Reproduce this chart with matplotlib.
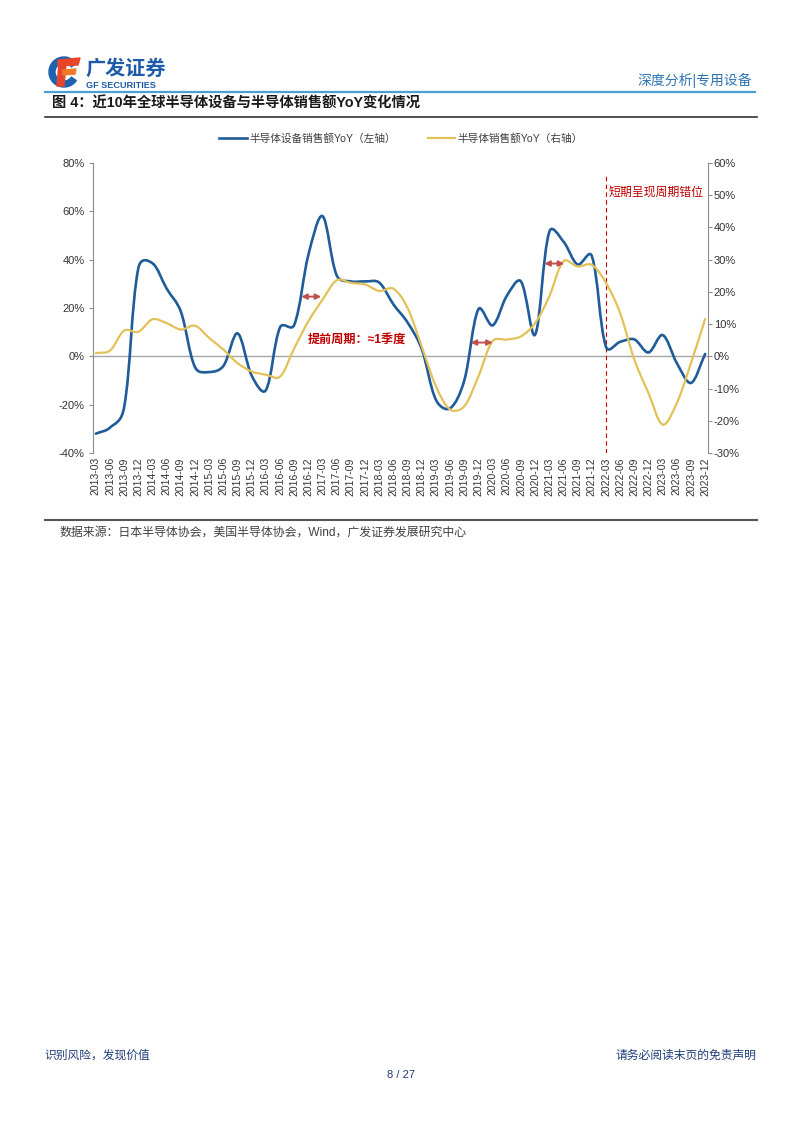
import matplotlib
matplotlib.use("Agg")
import matplotlib.pyplot as plt
import numpy as np
from matplotlib.path import Path
from matplotlib.patches import PathPatch, Wedge, Polygon
from matplotlib.lines import Line2D

plt.rcParams["font.family"] = ["Liberation Sans", "Noto Sans CJK SC", "DejaVu Sans"]

# quarterly categories 2013-03 .. 2023-12
quarters = [f"{y}-{m}" for y in range(2013, 2024) for m in ("03", "06", "09", "12")]

# semiconductor equipment sales YoY (%), left axis
equip_yoy = [-32, -29.5, -21, 36.5, 38.5, 28, 18.5, -4.5, -6.5, -4, 9.5, -8,
             -14, 12, 13, 42, 58, 33.5, 31, 31, 30.5, 21.5, 14, 3,
             -18, -21.5, -10, 19.5, 12.8, 25, 31, 9, 51.5, 47.5, 38, 41.5,
             4, 6, 7, 1.6, 8.8, -2.8, -11, 1]

# semiconductor sales YoY (%), right axis
semi_yoy = [1.0, 1.8, 8, 7.6, 11.5, 10.3, 8.3, 9.5, 5.7, 2.1, -2.1, -4.7,
            -5.7, -6.3, 2.5, 10.9, 17.6, 23.6, 22.8, 22.3, 20.3, 21, 15, 3,
            -9.3, -16.5, -15.5, -6.2, 4.7, 5.2, 6.2, 10.3, 18.6, 29.5, 27.9, 28.4,
            22.8, 13.4, -1, -11.4, -21.2, -14.5, -2.1, 11.6]

left_ticks = [-40, -20, 0, 20, 40, 60, 80]
right_ticks = [-30, -20, -10, 0, 10, 20, 30, 40, 50, 60]

# lead arrows: (x_start, x_end, y on left axis)
lead_arrows = [(14.5, 15.9, 24.7), (26.45, 28.0, 5.7), (31.65, 33.05, 38.4)]
split_quarter = "2022-03"

BLUE = "#1F5C99"
GOLD = "#E2C158"
RED = "#C00000"
W, H = 802, 1133


def fx(x):
    return x / W


def fy(y):
    return 1 - y / H


def smooth_path(axis, xs, ys):
    # bezier through the data points, tangents scaled by (sqrt) segment length on screen
    xs = np.asarray(xs, float)
    ys = np.asarray(ys, float)
    pts = np.column_stack([xs, ys])
    pix = axis.transData.transform(pts)
    d = np.sqrt(np.hypot(*np.diff(pix, axis=0).T))
    n = len(xs)
    verts = [tuple(pts[0])]
    codes = [Path.MOVETO]
    for i in range(n - 1):
        a = max(i - 1, 0)
        b = min(i + 2, n - 1)
        d_prev = d[i - 1] if i > 0 else 0.0
        d_next = d[i + 1] if i + 1 < n - 1 else 0.0
        f1 = d[i] / (d_prev + d[i]) / 3
        f2 = d[i] / (d[i] + d_next) / 3
        c1 = pts[i] + (pts[i + 1] - pts[a]) * f1
        c2 = pts[i + 1] - (pts[b] - pts[i]) * f2
        verts += [tuple(c1), tuple(c2), tuple(pts[i + 1])]
        codes += [Path.CURVE4] * 3
    return Path(verts, codes)


fig = plt.figure(figsize=(W / 100, H / 100), dpi=100)

# ---- header ----
logo = fig.add_axes([fx(40), fy(97), fx(140), 45 / H])
logo.set_xlim(40, 180)
logo.set_ylim(97, 52)
logo.axis("off")
logo.add_patch(Wedge((64, 72), 15, 35, 325, width=6, color="#1E63B0"))
logo.add_patch(Polygon([(58, 60), (80, 58), (78, 65), (58, 66)], color="#E8462A"))
logo.add_patch(Polygon([(59, 63), (66, 63), (64, 86), (57, 86)], color="#E8462A"))
logo.add_patch(Polygon([(63, 70), (76, 69), (75, 74), (63, 75)], color="#F07A2A"))
logo.text(85, 69, "广发证券", fontsize=14.5, fontweight="bold", color="#1E5BAA",
          va="center", ha="left")
logo.text(86, 85.5, "GF SECURITIES", fontsize=6.6, fontweight="bold", color="#1E5BAA",
          va="center", ha="left")

fig.text(fx(752), fy(80), "深度分析|专用设备", fontsize=10, color="#2F75B5",
         ha="right", va="center")
fig.add_artist(Line2D([fx(45), fx(755)], [fy(92), fy(92)], color="#4AA0D2", lw=1.6))
fig.text(fx(52), fy(104), "图 4：近10年全球半导体设备与半导体销售额YoY变化情况",
         fontsize=10.3, fontweight="bold", color="#1A1A1A", ha="left", va="center")
fig.add_artist(Line2D([fx(45), fx(757)], [fy(117), fy(117)], color="#333333", lw=1.2))

# ---- chart ----
ax = fig.add_axes([fx(93), fy(453), (708 - 93) / W, (453 - 163) / H])
ax2 = ax.twinx()
x = np.arange(len(quarters))

ax.set_xlim(-0.2, 43.2)
ax.set_ylim(-40, 80)
ax2.set_ylim(-30, 60)

ax.add_patch(PathPatch(smooth_path(ax, x, equip_yoy), facecolor="none",
                       edgecolor=BLUE, lw=1.9, capstyle="round", zorder=3))
ax2.add_patch(PathPatch(smooth_path(ax2, x, semi_yoy), facecolor="none",
                        edgecolor=GOLD, lw=1.6, capstyle="round", zorder=3))

ax.axhline(0, color="#A6A6A6", lw=1.0, zorder=1)

ax.set_yticks(left_ticks)
ax.set_yticklabels([f"{v}%" for v in left_ticks])
ax2.set_yticks(right_ticks)
ax2.set_yticklabels([f"{v}%" for v in right_ticks])
ax.set_xticks(x)
ax.set_xticklabels(quarters, rotation=90, fontsize=7.5, color="#333333")
ax.tick_params(axis="x", length=0, pad=3)
ax.tick_params(axis="y", labelsize=8, labelcolor="#333333", color="#8C8C8C",
               length=3, pad=3, direction="out")
ax2.tick_params(axis="y", labelsize=8, labelcolor="#333333", color="#8C8C8C",
                length=3, pad=1.2, direction="out")

for a in (ax, ax2):
    for s in ("top", "bottom"):
        a.spines[s].set_visible(False)
ax.spines["right"].set_visible(False)
ax2.spines["left"].set_visible(False)
ax.spines["left"].set_color("#8C8C8C")
ax2.spines["right"].set_color("#8C8C8C")

xs = quarters.index(split_quarter)
ax.plot([xs, xs], [-40, 76], color=RED, lw=0.8, ls=(0, (4, 3)), zorder=2)
ax.text(xs + 0.2, 67.8, "短期呈现周期错位", fontsize=8.6, color=RED,
        ha="left", va="center")
ax.text(14.98, 6.9, "提前周期：≈1季度", fontsize=8.7, fontweight="bold", color=RED,
        ha="left", va="center")

for x0, x1, yv in lead_arrows:
    ax2.annotate("", xy=(x1, yv * 0.75), xytext=(x0, yv * 0.75),
                 arrowprops=dict(arrowstyle="<|-|>", color="#C0504D", lw=1.4,
                                 mutation_scale=8, shrinkA=0, shrinkB=0), zorder=5)

handles = [Line2D([], [], color=BLUE, lw=1.9), Line2D([], [], color=GOLD, lw=1.6)]
fig.legend(handles, ["半导体设备销售额YoY（左轴）", "半导体销售额YoY（右轴）"],
           loc="center", bbox_to_anchor=(0.5, fy(138)), ncol=2, frameon=False,
           fontsize=7.7, handlelength=2.6, columnspacing=3.0, handletextpad=0.2,
           labelcolor="#404040")

# ---- source and footer ----
fig.add_artist(Line2D([fx(45), fx(757)], [fy(520), fy(520)], color="#555555", lw=1.5))
fig.text(fx(60), fy(533), "数据来源：日本半导体协会，美国半导体协会，Wind，广发证券发展研究中心",
         fontsize=8.6, color="#404040", ha="left", va="center")

fig.text(fx(44), fy(1056), "识别风险，发现价值", fontsize=8.5, color="#203E7A",
         ha="left", va="center")
fig.text(fx(757), fy(1056), "请务必阅读末页的免责声明", fontsize=8.5, color="#203E7A",
         ha="right", va="center")
fig.text(0.5, fy(1075), "8 / 27", fontsize=8, color="#203E7A", ha="center", va="center")

fig.savefig("out.png", dpi=100)
